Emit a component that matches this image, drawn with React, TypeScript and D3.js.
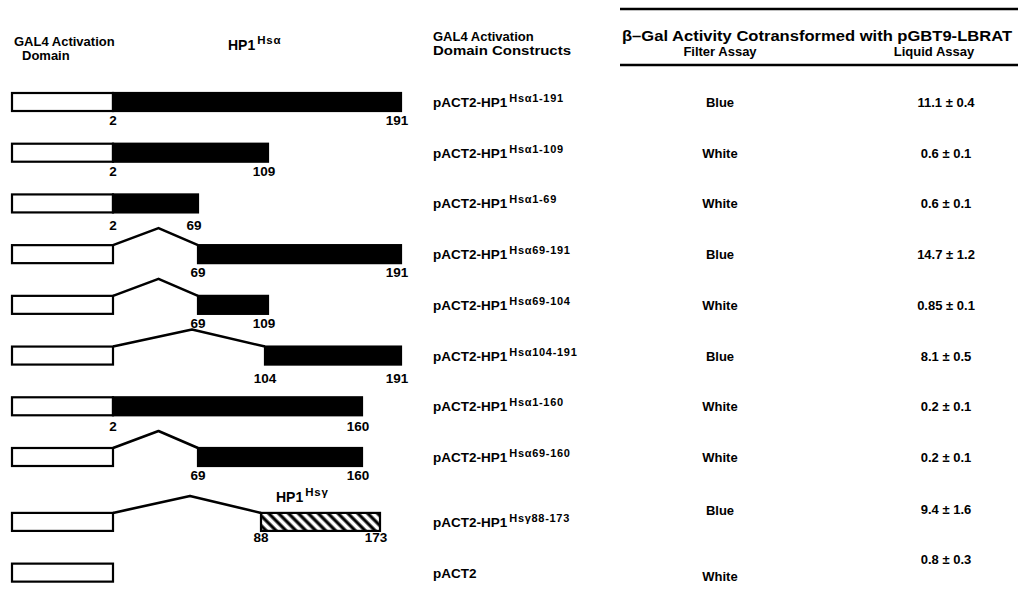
import * as d3 from 'd3';

// GAL4 activation-domain fusion constructs and their beta-Gal readouts
const constructNames = [
  'pACT2-HP1', 'pACT2-HP1', 'pACT2-HP1', 'pACT2-HP1', 'pACT2-HP1',
  'pACT2-HP1', 'pACT2-HP1', 'pACT2-HP1', 'pACT2-HP1', 'pACT2',
];
const constructSups = [
  'Hsα1-191', 'Hsα1-109', 'Hsα1-69', 'Hsα69-191', 'Hsα69-104',
  'Hsα104-191', 'Hsα1-160', 'Hsα69-160', 'Hsγ88-173', '',
];
const fragmentProtein = ['a', 'a', 'a', 'a', 'a', 'a', 'a', 'a', 'g', ''];
const fragmentStart = [2, 2, 2, 69, 69, 104, 2, 69, 88, null];
const fragmentEnd = [191, 109, 69, 191, 109, 191, 160, 160, 173, null];
const filterAssay = ['Blue', 'White', 'White', 'Blue', 'White', 'Blue', 'White', 'White', 'Blue', 'White'];
const liquidMean = ['11.1', '0.6', '0.6', '14.7', '0.85', '8.1', '0.2', '0.2', '9.4', '0.8'];
const liquidSD = ['0.4', '0.1', '0.1', '1.2', '0.1', '0.5', '0.1', '0.1', '1.6', '0.3'];

// residue ranges used for the maps
const gal4AD = [768, 881];
const hpAlphaTicks = [2, 69, 104, 109, 160, 191];
const hpGammaTicks = [88, 173];

const W = 1026;
const H = 593;
const FONT = '"Liberation Sans", Arial, Helvetica, sans-serif';

// scan quirks: a few values / labels sit off their row
const filterDy = [0, 0, 0, 0, 0, 0, 0, 0, -12, 3];
const liquidDy = [0, 0, 0, 0, 0, 0, 0, 0, -13, -14];
const numberDy = [0, 0, 4, 0, 0, 4, 2, 0, -3, 0];

export default function App() {
  const gal4X = d3.scaleLinear().domain(gal4AD).range([12, 113]);
  const alphaX = d3.scaleLinear().domain(hpAlphaTicks).range([113, 198, 265, 268, 362, 401]);
  const gammaX = d3.scaleLinear().domain(hpGammaTicks).range([261, 380]);
  const y = d3.scaleLinear().domain([0, 7]).range([102, 457]);
  const rowY = (i: number) => y(i < 8 ? i : i + 0.28);

  const boxH = 18;
  const peakH = 17;

  const txt = { fontFamily: FONT, fontWeight: 700, fill: '#000' } as const;

  return (
    <svg
      width={W}
      height={H}
      viewBox={`0 0 ${W} ${H}`}
      style={{ position: 'absolute', left: 0, top: 0, background: '#fff' }}
    >
      <defs>
        <pattern id="hatch" width={7} height={7} patternUnits="userSpaceOnUse" patternTransform="rotate(-45)">
          <rect width={7} height={7} fill="#fff" />
          <line x1={2} y1={0} x2={2} y2={7} stroke="#000" strokeWidth={3.2} />
        </pattern>
      </defs>

      {/* left header */}
      <text x={14} y={46} fontSize={13} {...txt}>GAL4 Activation</text>
      <text x={22} y={60} fontSize={13} {...txt}>Domain</text>
      <text x={228} y={50} fontSize={14} {...txt}>
        HP1<tspan fontSize={11.5} dy={-6} dx={2} letterSpacing={0.8}>Hsα</tspan>
      </text>

      {/* middle header */}
      <text x={433} y={41} fontSize={13} {...txt}>GAL4 Activation</text>
      <text x={433} y={55} fontSize={13} {...txt} textLength={138} lengthAdjust="spacingAndGlyphs">
        Domain Constructs
      </text>

      {/* table header */}
      <line x1={620} x2={1018} y1={9} y2={9} stroke="#000" strokeWidth={2.5} />
      <text x={622} y={41} fontSize={14} {...txt} textLength={390} lengthAdjust="spacingAndGlyphs">
        β–Gal Activity Cotransformed with pGBT9-LBRAT
      </text>
      <text x={720} y={56} fontSize={13} textAnchor="middle" {...txt}>Filter Assay</text>
      <text x={934} y={56} fontSize={13} textAnchor="middle" {...txt}>Liquid Assay</text>
      <line x1={620} x2={1018} y1={65} y2={65} stroke="#000" strokeWidth={2.5} />

      {constructNames.map((name, i) => {
        const cy = rowY(i);
        const top = cy - boxH / 2;
        const s = fragmentStart[i];
        const e = fragmentEnd[i];
        const xs = fragmentProtein[i] === 'g' ? gammaX : alphaX;
        const x0 = s != null ? xs(s) : 0;
        const x1 = e != null ? xs(e) : 0;
        const gEnd = gal4X(gal4AD[1]);
        const hasGap = s != null && x0 - gEnd > 4;
        const peakX = (gEnd + x0) / 2 + 3;
        const numY = top + boxH + 14 + numberDy[i];
        return (
          <g key={i}>
            {hasGap && (
              <polyline
                points={`${gEnd},${top} ${peakX},${top - peakH} ${x0},${top}`}
                fill="none"
                stroke="#000"
                strokeWidth={2.6}
                strokeLinejoin="round"
              />
            )}
            <rect
              x={gal4X(gal4AD[0])}
              y={top}
              width={gEnd - gal4X(gal4AD[0])}
              height={boxH}
              fill="#fff"
              stroke="#000"
              strokeWidth={2.2}
            />
            {s != null && e != null && (
              <>
                <rect
                  x={x0}
                  y={top}
                  width={x1 - x0}
                  height={boxH}
                  fill={fragmentProtein[i] === 'g' ? 'url(#hatch)' : '#000'}
                  stroke="#000"
                  strokeWidth={2.2}
                />
                <text x={x0} y={numY} fontSize={13.5} textAnchor="middle" {...txt}>{s}</text>
                <text x={x1 - 4} y={numY} fontSize={13.5} textAnchor="middle" {...txt}>{e}</text>
              </>
            )}
            {fragmentProtein[i] === 'g' && (
              <text x={276} y={top - 11} fontSize={14} {...txt}>
                HP1<tspan fontSize={11.5} dy={-6} dx={2} letterSpacing={0.8}>Hsγ</tspan>
              </text>
            )}

            <text x={433} y={cy + 5} fontSize={13.5} {...txt}>
              {name}
              {constructSups[i] && (
                <tspan fontSize={11} dy={-5} dx={2} letterSpacing={0.7}>{constructSups[i]}</tspan>
              )}
            </text>
            <text x={720} y={cy + 5 + filterDy[i]} fontSize={13} textAnchor="middle" {...txt}>
              {filterAssay[i]}
            </text>
            <text x={946} y={cy + 5 + liquidDy[i]} fontSize={13} textAnchor="middle" {...txt}>
              {`${liquidMean[i]} ± ${liquidSD[i]}`}
            </text>
          </g>
        );
      })}
    </svg>
  );
}
